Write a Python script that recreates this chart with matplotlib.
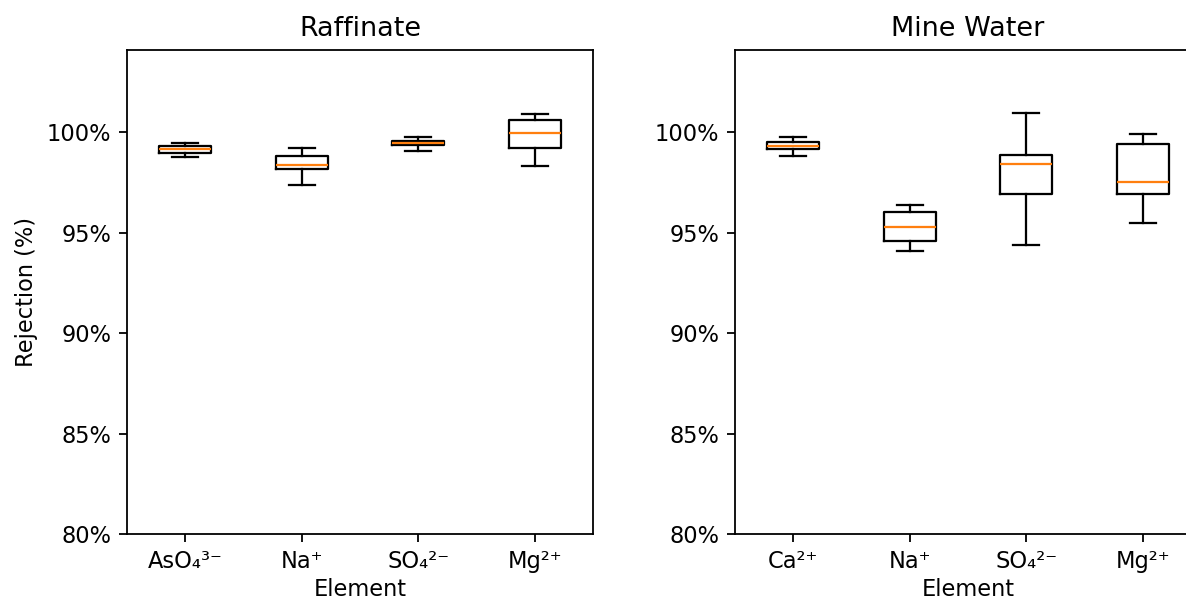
import matplotlib
matplotlib.use("Agg")
import matplotlib.pyplot as plt
from matplotlib.ticker import PercentFormatter, MultipleLocator

# Raffinate
raf_labels = ["AsO₄³⁻", "Na⁺", "SO₄²⁻", "Mg²⁺"]
raf_whislo = [98.77, 97.36, 99.05, 98.31]
raf_q1 = [98.99, 98.19, 99.37, 99.22]
raf_med = [99.17, 98.39, 99.45, 99.98]
raf_q3 = [99.30, 98.82, 99.57, 100.63]
raf_whishi = [99.47, 99.22, 99.77, 100.91]

# Mine water
mw_labels = ["Ca²⁺", "Na⁺", "SO₄²⁻", "Mg²⁺"]
mw_whislo = [98.82, 94.11, 94.41, 95.47]
mw_q1 = [99.15, 94.61, 96.92, 96.92]
mw_med = [99.32, 95.29, 98.44, 97.51]
mw_q3 = [99.52, 96.05, 98.89, 99.44]
mw_whishi = [99.78, 96.38, 100.96, 99.90]


def stats(labels, lo, q1, med, q3, hi):
    return [dict(label=l, whislo=a, q1=b, med=c, q3=d, whishi=e, fliers=[])
            for l, a, b, c, d, e in zip(labels, lo, q1, med, q3, hi)]


DPI = 162
fig = plt.figure(figsize=(1186 / DPI, 600 / DPI), dpi=DPI)
ax1 = fig.add_axes([127 / 1186, 1 - 534 / 600, 466 / 1186, 484 / 600])
ax2 = fig.add_axes([735 / 1186, 1 - 534 / 600, 466 / 1186, 484 / 600])

ax1.bxp(stats(raf_labels, raf_whislo, raf_q1, raf_med, raf_q3, raf_whishi), showfliers=False)
ax2.bxp(stats(mw_labels, mw_whislo, mw_q1, mw_med, mw_q3, mw_whishi), showfliers=False)

for ax, title in ((ax1, "Raffinate"), (ax2, "Mine Water")):
    ax.set_title(title)
    ax.set_ylim(80, 104.1)
    ax.yaxis.set_major_locator(MultipleLocator(5))
    ax.yaxis.set_major_formatter(PercentFormatter(decimals=0))
    ax.set_xlabel("Element", labelpad=2.5)
ax1.set_ylabel("Rejection (%)")

fig.savefig("out.png", dpi=DPI)
